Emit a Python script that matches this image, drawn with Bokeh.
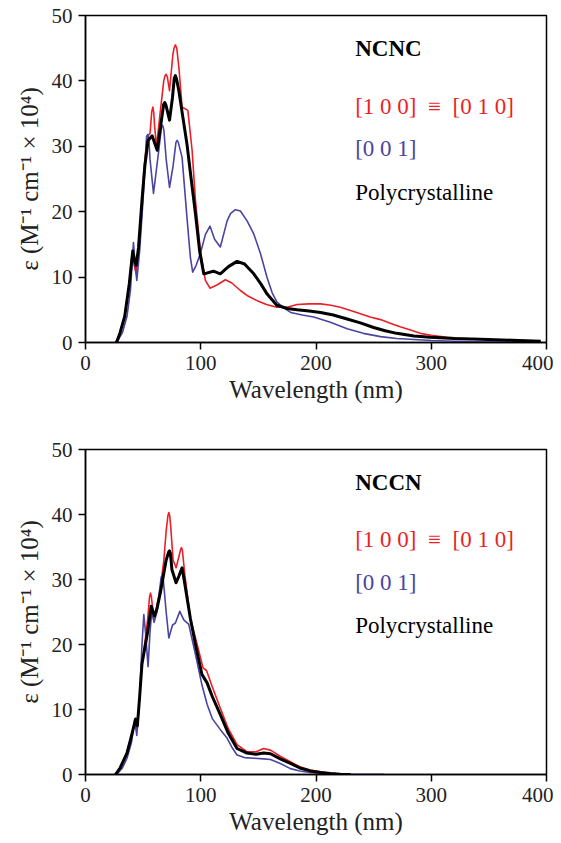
from bokeh.plotting import figure
from bokeh.layouts import column
from bokeh.models import Label, FixedTicker
from bokeh.embed import file_html
from bokeh.resources import INLINE

# ---------------- data: NCNC ----------------
ncnc_red_x = [26, 30, 34, 38, 40.5, 42, 44, 46, 49, 51, 53.5, 56, 57.5, 58.4, 59.2, 60, 61.6, 65, 67.9, 69, 70, 71, 72.9, 75.8, 76.8, 78, 79.2, 81, 83.8, 88.8, 92.5, 95.4, 99.7, 104, 108, 114, 121.4, 127, 134.4, 141, 149, 157, 166, 175, 183.6, 194, 204, 213, 221, 230, 238.5, 247, 256, 265, 273, 282, 290.5, 300, 313.7, 327, 343, 360, 378, 395]
ncnc_red_y = [0, 1.5, 4, 9, 13.6, 12, 10.5, 14, 21.7, 27, 31.4, 32, 35.3, 36, 35.2, 33, 29.9, 35.5, 40, 40.8, 41, 40.6, 38.5, 44, 45, 45.5, 45, 42.1, 36, 35.5, 29.4, 21.7, 14, 9.5, 8.3, 8.8, 9.6, 9.1, 7.95, 7.1, 6.4, 5.8, 5.4, 5.4, 5.8, 5.9, 5.9, 5.7, 5.4, 4.9, 4.4, 3.9, 3.5, 2.9, 2.4, 1.9, 1.4, 1.1, 0.8, 0.6, 0.5, 0.35, 0.25, 0.2]

ncnc_blue_x = [27, 32, 36, 39, 41.6, 43, 44.5, 47, 50, 51.6, 53, 54, 55, 56, 59, 63.6, 66, 67, 68, 70, 72.9, 76, 78.5, 79.5, 80.5, 83.8, 88, 91, 93, 96, 99.7, 104, 108, 112, 117, 122.9, 125.8, 130, 134.4, 140.2, 146, 151.8, 157.6, 162, 166, 172, 178, 188, 198, 212.5, 227, 241, 256, 270, 285, 300, 320, 340, 360, 395]
ncnc_blue_y = [0, 1.5, 4, 8, 15.3, 12, 9.5, 14, 22, 27, 31.5, 31.8, 31, 28, 22.8, 29.4, 33, 33.2, 32.5, 28, 23.7, 27, 30.6, 30.9, 30.6, 28.3, 19.2, 13, 10.75, 11.8, 13.6, 16.5, 17.8, 15.8, 14.6, 18.6, 19.7, 20.3, 20.1, 18.6, 16.6, 13.6, 9.9, 7.6, 6.2, 5.3, 4.6, 4.2, 3.9, 3.1, 2.1, 1.4, 0.9, 0.6, 0.45, 0.3, 0.2, 0.12, 0.08, 0.05]

ncnc_poly_x = [27, 30, 34, 38, 41, 42.5, 44, 46, 49, 51.5, 54.3, 57.8, 62.2, 65.5, 67.8, 68.8, 69.8, 72.9, 75.5, 77, 78, 79, 81, 84, 88, 91, 95.4, 99, 102.6, 105, 111, 117, 124, 131.5, 138, 146, 152, 157.6, 166, 175, 183.6, 194, 204, 215, 227, 238.5, 250, 260, 270, 285, 299, 320, 342.6, 370, 395]
ncnc_poly_y = [0, 1.5, 4, 9, 14, 12.5, 11.8, 14.5, 21.7, 27, 30.9, 31.6, 29.4, 33.5, 36.4, 36.7, 36.3, 34, 37.5, 40.4, 40.8, 40.3, 38.5, 35, 30.4, 26, 19.7, 14, 10.5, 10.6, 10.9, 10.5, 11.6, 12.4, 12, 10.5, 9, 7.4, 5.7, 5.2, 5.0, 4.8, 4.6, 4.2, 3.6, 3.0, 2.3, 1.8, 1.4, 1.0, 0.8, 0.6, 0.5, 0.35, 0.2]

# ---------------- data: NCCN ----------------
nccn_red_x = [26, 30, 36, 40, 43.4, 45, 47, 49, 52, 54, 55.6, 56.4, 57.2, 58, 59.8, 62, 65, 68, 70, 71.5, 72.3, 73.1, 74, 76, 78.6, 81, 82.5, 83.3, 84.1, 86, 91, 96.9, 102, 105, 110, 117, 124, 131.5, 140, 148, 154.6, 160.5, 169, 177.8, 186, 195, 204, 212.5, 221, 230]
nccn_red_y = [0, 1, 3.5, 6, 8.7, 7, 12, 17, 21, 24, 27.4, 27.9, 27.3, 26, 23.9, 26, 28.7, 33, 37.5, 39.8, 40.3, 39.8, 38, 33, 31.8, 33.5, 34.6, 34.9, 34.5, 31, 24, 20, 16.4, 16, 13.5, 10.2, 7, 4.6, 3.5, 3.5, 4.0, 3.75, 2.8, 1.95, 1.2, 0.7, 0.4, 0.2, 0.08, 0]

nccn_blue_x = [27, 32, 36, 40, 42.6, 44.5, 47, 49, 50.6, 52, 54.3, 56, 57.5, 59.5, 62, 64, 65.7, 66.5, 67.3, 68.5, 70, 72.3, 75.5, 78, 81.8, 85.3, 89.6, 95.4, 101, 105.5, 110, 117, 122.8, 127, 131.5, 138, 146, 154.6, 160.5, 169, 177.8, 186, 195, 212.5, 230, 259]
nccn_blue_y = [0, 1, 2.5, 5, 8.4, 6, 12, 20, 24.6, 22, 16.6, 22, 25, 23.4, 25, 28, 30.4, 30.6, 30.3, 28, 25, 21, 23, 23.3, 25.1, 23.8, 23.1, 18.5, 13.8, 10.8, 8.6, 6.9, 5.6, 4.2, 3, 2.6, 2.5, 2.4, 2.3, 1.7, 0.9, 0.55, 0.3, 0.1, 0.05, 0.05]

nccn_poly_x = [26, 30, 36, 40, 43.4, 45, 47, 49, 52, 54, 57, 59.8, 62, 65, 68, 70, 72.1, 72.9, 73.7, 75, 78.6, 81, 83.8, 86, 91, 96, 101, 105.5, 110, 117, 124, 131.5, 140, 148, 154.6, 160.5, 169, 177.8, 186, 195, 204, 212.5, 221, 230]
nccn_poly_y = [0, 1, 3.3, 6, 8.5, 7.5, 12, 17, 20, 22, 25.9, 24.4, 25.5, 28, 31, 33, 34.2, 34.4, 34.0, 31.5, 29.5, 30.5, 31.8, 29.5, 24, 19.5, 15.4, 14.1, 12, 9.2, 6.3, 4, 3.3, 3.1, 3.3, 3.2, 2.4, 1.7, 1.0, 0.55, 0.3, 0.15, 0.05, 0]

x_ticks = [0, 100, 200, 300, 400]
y_ticks = [0, 10, 20, 30, 40, 50]

RED = "#ec1f26"
BLUE = "#4a44a3"
BLACK = "#000000"
FONT = "Liberation Serif"


def make_panel(title, rx, ry, bx, by, kx, ky, height, border_top, border_bottom):
    p = figure(width=553, height=height, output_backend="svg", toolbar_location=None,
               x_range=(0, 400), y_range=(0, 50),
               min_border_left=85, min_border_right=7,
               min_border_top=border_top, min_border_bottom=border_bottom)
    p.xgrid.visible = False
    p.ygrid.visible = False
    p.outline_line_color = "black"
    p.outline_line_width = 1.5
    p.background_fill_color = "white"
    p.border_fill_color = "white"

    p.line(rx, ry, line_color=RED, line_width=1.6, line_join="round")
    p.line(bx, by, line_color=BLUE, line_width=1.6, line_join="round")
    p.line(kx, ky, line_color=BLACK, line_width=3, line_join="round")

    for ax in (p.xaxis[0], p.yaxis[0]):
        ax.major_tick_in = 0
        ax.major_tick_out = 7
        ax.minor_tick_out = 0
        ax.minor_tick_in = 0
        ax.axis_line_width = 1.5
        ax.major_tick_line_width = 1.5
        ax.major_label_text_font = FONT
        ax.major_label_text_font_size = "21px"
        ax.major_label_text_color = "#222222"
        ax.axis_label_text_font = FONT
        ax.axis_label_text_font_size = "25px"
        ax.axis_label_text_font_style = "normal"
        ax.axis_label_text_color = "#222222"
    p.xaxis.ticker = FixedTicker(ticks=x_ticks)
    p.yaxis.ticker = FixedTicker(ticks=y_ticks)
    p.xaxis.axis_label = "Wavelength (nm)"
    p.yaxis.axis_label = "\u03b5 (M\u207b\u00b9 cm\u207b\u00b9 \u00d7 10\u2074)"
    p.xaxis.major_label_standoff = 6
    p.xaxis.axis_label_standoff = 3
    p.yaxis.major_label_standoff = 6
    p.yaxis.axis_label_standoff = 6

    lx = 234
    fs = "23px"
    p.add_layout(Label(x=lx, y=45, text=title, text_font=FONT, text_font_size=fs,
                       text_font_style="bold", text_color=BLACK, text_baseline="middle"))
    p.add_layout(Label(x=lx, y=36.1, text="[1 0 0]\u00a0 \u2261 \u00a0[0 1 0]", text_font=FONT,
                       text_font_size=fs, text_color=RED, text_baseline="middle"))
    p.add_layout(Label(x=lx, y=29.6, text="[0 0 1]", text_font=FONT,
                       text_font_size=fs, text_color=BLUE, text_baseline="middle"))
    p.add_layout(Label(x=lx, y=23.0, text="Polycrystalline", text_font=FONT,
                       text_font_size=fs, text_color=BLACK, text_baseline="middle"))
    return p


p1 = make_panel("NCNC", ncnc_red_x, ncnc_red_y, ncnc_blue_x, ncnc_blue_y,
                ncnc_poly_x, ncnc_poly_y, height=429, border_top=15, border_bottom=87)
p2 = make_panel("NCCN", nccn_red_x, nccn_red_y, nccn_blue_x, nccn_blue_y,
                nccn_poly_x, nccn_poly_y, height=414, border_top=20, border_bottom=69)

layout = column(p1, p2, spacing=0)
open("out.html", "w").write(file_html(layout, INLINE))
